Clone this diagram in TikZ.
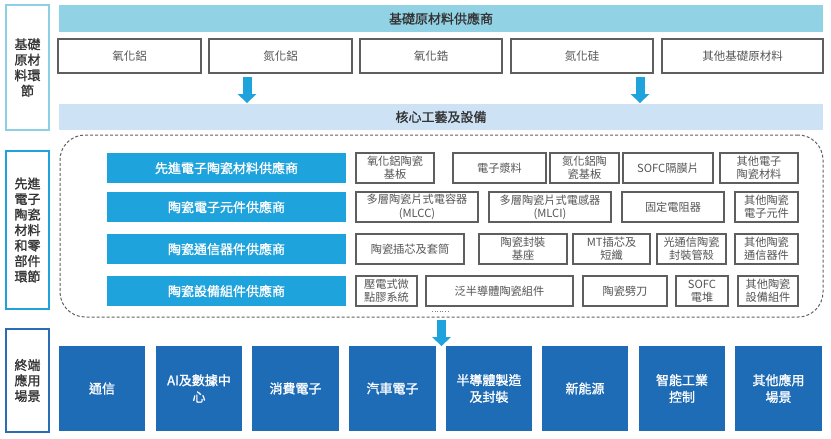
\documentclass[tikz,border=0pt]{standalone}
\usepackage{fontspec}
\setmainfont{Noto Sans CJK TC}
\newfontfamily\medfont{Noto Sans CJK TC}[FakeBold=1.2]
\usetikzlibrary{arrows.meta}
\definecolor{topbar}{HTML}{92D2E5}
\definecolor{corebar}{HTML}{CDE3F5}
\definecolor{hdrblue}{HTML}{1FA3DC}
\definecolor{botblue}{HTML}{1E6CB5}
\definecolor{lblone}{HTML}{8DD0E6}
\definecolor{lbltwo}{HTML}{1FA3DC}
\definecolor{lblthree}{HTML}{2A6DB3}
\definecolor{boxgrey}{HTML}{5E5E5E}
\definecolor{txtgrey}{HTML}{555555}
\definecolor{darktxt}{HTML}{333333}
\begin{document}
\begin{tikzpicture}[x=1pt,y=-1pt,
  lbl/.style={draw, line width=2.6pt, fill=white, inner sep=0pt, align=center,
    text=darktxt, font=\medfont\fontsize{13}{15.5}\selectfont},
  bar/.style={inner sep=0pt, align=center, text=darktxt,
    font=\medfont\fontsize{13}{15.5}\selectfont},
  matbox/.style={draw=boxgrey, line width=1.1pt, fill=white, inner sep=0pt, align=center,
    text=txtgrey, font=\fontsize{11.5}{14}\selectfont},
  itembox/.style={draw=boxgrey, line width=1.1pt, fill=white, inner sep=0pt, align=center,
    text=txtgrey, font=\fontsize{11.2}{13.3}\selectfont, minimum height=30pt},
  hdr/.style={fill=hdrblue, inner sep=0pt, align=center, text=white,
    minimum width=239pt, minimum height=30pt, font=\medfont\fontsize{13}{15.5}\selectfont},
  appbox/.style={fill=botblue, inner sep=0pt, align=center, text=white,
    minimum height=85pt, font=\medfont\fontsize{13}{16.7}\selectfont},
  dashbox/.style={draw=gray!75!black, dash pattern=on 3pt off 2pt, line width=1pt,
    rounded corners=25pt, inner sep=0pt},
  bigarrow/.style={draw=hdrblue, line width=9pt,
    -{Triangle[width=19pt,length=9pt,line width=0pt]}},
]
\useasboundingbox (0,0) rectangle (831,439);

% left labels
\node[lbl, draw=lblone, minimum width=43pt, minimum height=125pt] (L1) at (27.5,67.5) {基礎\\原材\\料環\\節};
\node[lbl, draw=lbltwo, minimum width=43pt, minimum height=158pt] (L2) at (27.5,230) {先進\\電子\\陶瓷\\材料\\和零\\部件\\環節};
\node[lbl, draw=lblthree, minimum width=43pt, minimum height=103pt] (L3) at (27.5,380.5) {終端\\應用\\場景};

% top bar and materials
\node[bar, fill=topbar, minimum width=764pt, minimum height=27pt] (top) at (441,18.5) {基礎原材料供應商};
\node[matbox, minimum width=143pt, minimum height=34pt] (m1) at (129.5,56) {氧化鋁};
\node[matbox, minimum width=143pt, minimum height=34pt] (m2) at (280.5,56) {氮化鋁};
\node[matbox, minimum width=142pt, minimum height=34pt] (m3) at (431,56) {氧化鋯};
\node[matbox, minimum width=142pt, minimum height=34pt] (m4) at (582,56) {氮化硅};
\node[matbox, minimum width=161pt, minimum height=34pt] (m5) at (742.5,56) {其他基礎原材料};

\node[bar, fill=corebar, minimum width=764pt, minimum height=26pt] (core) at (441,117) {核心工藝及設備};

\coordinate (a1s) at (247,77);
\coordinate (a1e) at (247,103);
\coordinate (a2s) at (640,77);
\coordinate (a2e) at (640,103);
\draw[bigarrow] (a1s) -- (a1e);
\draw[bigarrow] (a2s) -- (a2e);

% dashed group
\node[dashbox, minimum width=763pt, minimum height=182pt] (grp) at (441.5,226) {};

% headers
\node[hdr] (h1) at (226.5,168) {先進電子陶瓷材料供應商};
\node[hdr] (h2) at (226.5,207) {陶瓷電子元件供應商};
\node[hdr] (h3) at (226.5,249) {陶瓷通信器件供應商};
\node[hdr] (h4) at (226.5,291) {陶瓷設備組件供應商};

% row 1
\node[itembox, minimum width=78pt] (r1a) at (395,168) {氧化鋁陶瓷\\基板};
\node[itembox, minimum width=93pt] (r1b) at (499.5,168) {電子漿料};
\node[itembox, minimum width=69pt] (r1c) at (584.5,168) {氮化鋁陶\\瓷基板};
\node[itembox, minimum width=90pt] (r1d) at (668,168) {SOFC隔膜片};
\node[itembox, minimum width=78pt] (r1e) at (759,168) {其他電子\\陶瓷材料};
% row 2
\node[itembox, minimum width=122pt] (r2a) at (417,207) {多層陶瓷片式電容器\\(MLCC)};
\node[itembox, minimum width=122pt] (r2b) at (550,207) {多層陶瓷片式電感器\\(MLCI)};
\node[itembox, minimum width=102pt] (r2c) at (673,207) {固定電阻器};
\node[itembox, minimum width=63pt] (r2d) at (766.5,207) {其他陶瓷\\電子元件};
% row 3
\node[itembox, minimum width=108pt] (r3a) at (410,249) {陶瓷插芯及套筒};
\node[itembox, minimum width=88pt] (r3b) at (523,249) {陶瓷封裝\\基座};
\node[itembox, minimum width=77pt] (r3c) at (611.5,249) {MT插芯及\\短纖};
\node[itembox, minimum width=69pt] (r3d) at (691.5,249) {光通信陶瓷\\封裝管殼};
\node[itembox, minimum width=63pt] (r3e) at (766.5,249) {其他陶瓷\\通信器件};
% row 4
\node[itembox, minimum width=61pt] (r4a) at (386.5,291) {壓電式微\\點膠系統};
\node[itembox, minimum width=147pt] (r4b) at (499.5,291) {泛半導體陶瓷組件};
\node[itembox, minimum width=84pt] (r4c) at (625,291) {陶瓷劈刀};
\node[itembox, minimum width=52pt] (r4d) at (702,291) {SOFC\\電堆};
\node[itembox, minimum width=60pt] (r4e) at (768,291) {其他陶瓷\\設備組件};

% dots and bottom arrow
\coordinate (dt1) at (432,311);
\coordinate (dt2) at (450,311);
\draw[gray, line width=0.5pt, dash pattern=on 0.6pt off 2pt] (dt1) -- (dt2);
\coordinate (a3s) at (441.5,320);
\coordinate (a3e) at (441.5,346);
\draw[bigarrow] (a3s) -- (a3e);

% application boxes
\node[appbox, minimum width=86pt] (b1) at (102,388.5) {通信};
\node[appbox, minimum width=86pt] (b2) at (199,388.5) {AI及數據中\\心};
\node[appbox, minimum width=87pt] (b3) at (295.5,388.5) {消費電子};
\node[appbox, minimum width=87pt] (b4) at (392.5,388.5) {汽車電子};
\node[appbox, minimum width=86pt] (b5) at (489,388.5) {半導體製造\\及封裝};
\node[appbox, minimum width=86pt] (b6) at (585,388.5) {新能源};
\node[appbox, minimum width=86pt] (b7) at (682,388.5) {智能工業\\控制};
\node[appbox, minimum width=87pt] (b8) at (778.5,388.5) {其他應用\\場景};
\end{tikzpicture}
\end{document}
